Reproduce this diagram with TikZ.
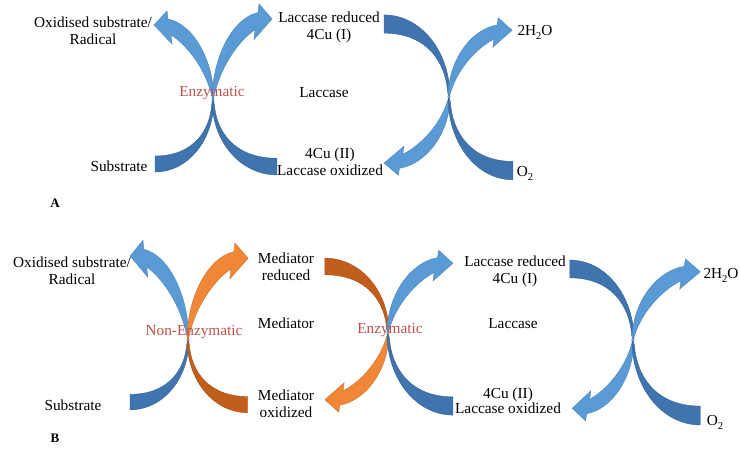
\documentclass[tikz,border=0pt]{standalone}
\usepackage{fontspec}
\setmainfont{Liberation Serif}
\definecolor{bluelt}{HTML}{5B9BD5}
\definecolor{bluedk}{HTML}{3F74AE}
\definecolor{orlt}{HTML}{EF8737}
\definecolor{ordk}{HTML}{C25E1C}
\definecolor{enzred}{HTML}{C0504D}
\newcommand{\HeadPc}[5]{\begin{scope}[shift={(#1,#2)},xscale=#3,yscale=#4]
\filldraw[fill=#5, draw=#5!85!black, line width=0.4pt] (0.9,0) .. controls (0.9,-40) and (-20,-76) .. (-45,-81) -- (-46,-89) -- (-59,-75) -- (-41,-56) -- (-42,-65) .. controls (-30,-58) and (-9,-36) .. (-1.2,-4) -- cycle;
\end{scope}}
\newcommand{\TailPc}[5]{\begin{scope}[shift={(#1,#2)},xscale=#3,yscale=#4]
\filldraw[fill=#5, draw=#5!85!black, line width=0.4pt] (0.9,0) .. controls (0.9,40) and (-25,72) .. (-58,72) -- (-58,56) .. controls (-19,56) and (-3,30) .. (-1.2,4) -- cycle;
\end{scope}}
\newcommand{\sbs}[1]{\raisebox{-4pt}{\fontsize{10.5}{10.5}\selectfont #1}}
\begin{document}
\begin{tikzpicture}[x=1pt,y=-1pt,
  lbl/.style={font=\fontsize{15.3}{17}\selectfont, align=center, inner sep=0pt},
  enz/.style={lbl, text=enzred},
  panel/.style={font=\fontsize{13}{15}\selectfont\bfseries, inner sep=0pt}]
\useasboundingbox (0,0) rectangle (740,450);
% ---------- Panel A ----------
\TailPc{213}{100}{1}{1}{bluedk}
\HeadPc{213}{100}{1}{1}{bluelt}
\TailPc{213}{100}{-1.10}{1.04}{bluedk}
\HeadPc{213}{100}{-1.0}{1.08}{bluelt}
\TailPc{449}{97}{1.12}{-1.14}{bluedk}
\HeadPc{449}{97}{1.1}{-0.88}{bluelt}
\TailPc{449}{97}{-1.10}{1.15}{bluedk}
\HeadPc{449}{97}{-1.07}{0.89}{bluelt}
\node[lbl] (aox) at (93,31) {Oxidised substrate/\\Radical};
\node[lbl] (asub) at (119,166) {Substrate};
\node[enz] (aenz) at (212,93) {Enzymatic};
\node[lbl] (ared) at (329,27) {Laccase reduced\\4Cu (I)};
\node[lbl] (alac) at (324,93) {Laccase};
\node[lbl] (aoxd) at (330,162) {4Cu (II)\\Laccase oxidized};
\node[lbl] (ah2o) at (535,32) {2H\sbs{2}O};
\node[lbl] (ao2) at (525,173) {O\sbs{2}};
\node[panel] (pa) at (55,203) {A};
% ---------- Panel B ----------
\TailPc{188}{340}{1}{0.97}{bluedk}
\HeadPc{188}{340}{0.98}{1.12}{bluelt}
\TailPc{188}{340}{-1.03}{1.01}{ordk}
\HeadPc{188}{340}{-1.02}{1.09}{orlt}
\TailPc{388}{333}{1.09}{-1.04}{ordk}
\HeadPc{388}{333}{1.07}{-0.89}{orlt}
\TailPc{388}{333}{-1.12}{1.14}{bluedk}
\HeadPc{388}{333}{-1.10}{0.93}{bluelt}
\TailPc{633}{340}{1.09}{-1.11}{bluedk}
\HeadPc{633}{340}{1.03}{-0.91}{bluelt}
\TailPc{633}{340}{-1.16}{1.18}{bluedk}
\HeadPc{633}{340}{-1.14}{0.91}{bluelt}
\node[lbl] (box) at (72,271) {Oxidised substrate/\\Radical};
\node[lbl] (bsub) at (73,405) {Substrate};
\node[enz] (bnenz) at (194,332) {Non-Enzymatic};
\node[lbl] (bmred) at (286,267) {Mediator\\reduced};
\node[lbl] (bmed) at (286,323) {Mediator};
\node[lbl] (bmox) at (286,404) {Mediator\\oxidized};
\node[enz] (benz) at (390,330) {Enzymatic};
\node[lbl] (bred) at (515,271) {Laccase reduced\\4Cu (I)};
\node[lbl] (blac) at (513,324) {Laccase};
\node[lbl] (bcu) at (508,395) {4Cu (II)};
\node[lbl] (boxd) at (508,408) {Laccase oxidized};
\node[lbl] (bh2o) at (721,275) {2H\sbs{2}O};
\node[lbl] (bo2) at (715,422) {O\sbs{2}};
\node[panel] (pb) at (55,438) {B};
\end{tikzpicture}
\end{document}
